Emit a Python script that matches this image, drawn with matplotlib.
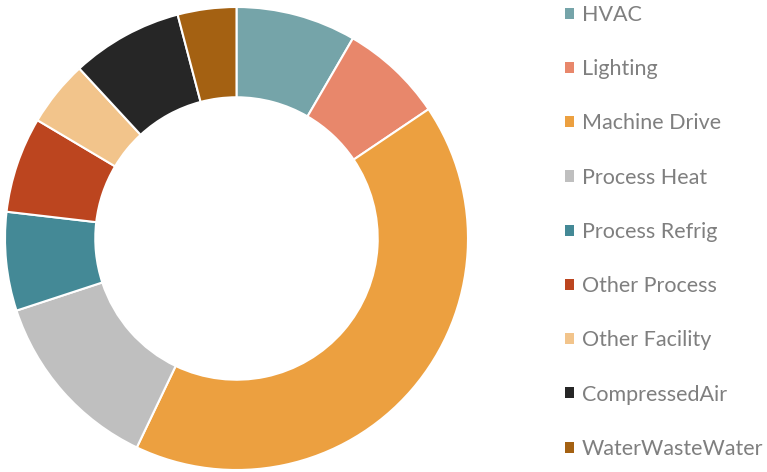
import matplotlib.pyplot as plt
from matplotlib.patches import Patch

# Energy end-use shares (percent)
categories = ["HVAC", "Lighting", "Machine Drive", "Process Heat", "Process Refrig",
              "Other Process", "Other Facility", "CompressedAir", "WaterWasteWater"]
shares = [8.4, 7.2, 41.6, 12.9, 6.9, 6.7, 4.6, 7.8, 4.1]
colors = ["#75A4A9", "#E8876B", "#ECA040", "#BFBFBF", "#448996",
          "#BC451F", "#F2C48B", "#262626", "#A46112"]

W, H = 767, 472
fig = plt.figure(figsize=(W / 100, H / 100), dpi=100)

# donut centred at (236.5, 238.5) px, outer radius ~231.5 px
cx, cy, r = 236.5, 238.5, 231.5
ax = fig.add_axes([(cx - r) / W, (H - cy - r) / H, 2 * r / W, 2 * r / H])
ax.pie(shares, colors=colors, startangle=90, counterclock=False, radius=1.0,
       wedgeprops=dict(width=0.39, edgecolor="white", linewidth=1.5))
ax.set_xlim(-1, 1)
ax.set_ylim(-1, 1)
ax.set_aspect("equal")
ax.axis("off")

handles = [Patch(facecolor=c, edgecolor="none") for c in colors]
leg = fig.legend(handles, categories, loc="upper left",
                 bbox_to_anchor=(565 / W, 1 - 5 / H), frameon=False,
                 prop=dict(family="Lato", size=15.5), labelcolor="#7F7F7F",
                 handlelength=0.42, handleheight=0.42, handletextpad=0.37,
                 labelspacing=1.59, borderaxespad=0, borderpad=0)

fig.savefig("out.png", dpi=100, facecolor="white")
